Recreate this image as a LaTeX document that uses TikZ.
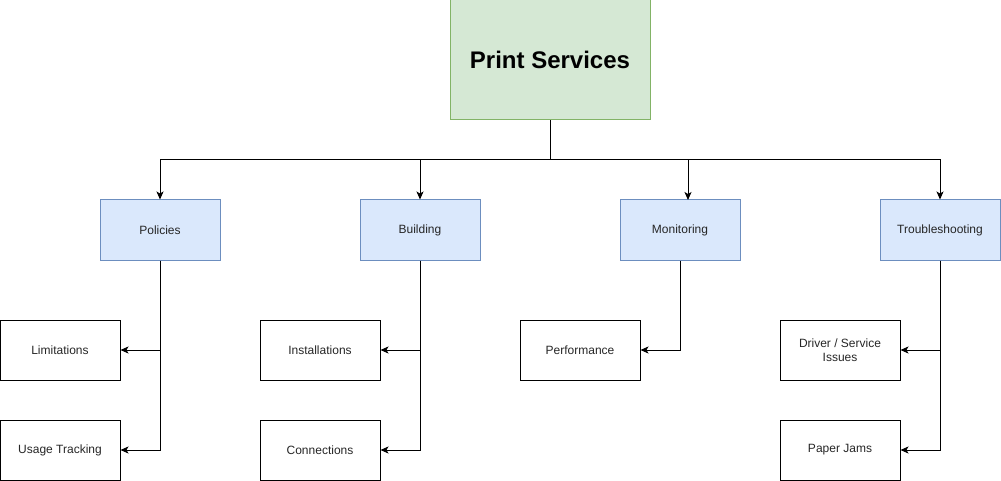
\documentclass[tikz,border=0pt]{standalone}
\usepackage{fontspec}
\setmainfont{Liberation Sans}
\usetikzlibrary{arrows.meta}
\definecolor{gfill}{HTML}{D5E8D4}
\definecolor{gdraw}{HTML}{82B366}
\definecolor{bfill}{HTML}{DAE8FC}
\definecolor{bdraw}{HTML}{6C8EBF}
\begin{document}
\begin{tikzpicture}[x=1pt,y=-1pt,
  box/.style={draw=black, line width=1pt, minimum width=120pt, minimum height=60pt, inner sep=0pt, align=center, font=\fontsize{12pt}{14pt}\selectfont, text=black!85},
  catbox/.style={box, fill=bfill, draw=bdraw},
  rootbox/.style={draw=gdraw, fill=gfill, line width=1pt, minimum width=200pt, minimum height=120pt, inner sep=0pt, font=\fontsize{24pt}{28pt}\selectfont\bfseries},
  arr/.style={line width=1pt, -{Stealth[length=8pt,width=7pt,inset=2pt]}}]
\useasboundingbox (0,0) rectangle (1001,481);
\node[rootbox] (root) at (550,60) {Print Services};
\node[catbox] (pol) at (160,230) {Policies};
\node[catbox] (bld) at (420,230) {Building};
\node[catbox] (mon) at (680,230) {Monitoring};
\node[catbox] (trb) at (940,230) {Troubleshooting};
\node[box] (lim) at (60,350) {Limitations};
\node[box] (use) at (60,450) {Usage Tracking};
\node[box] (ins) at (320,350) {Installations};
\node[box] (con) at (320,450) {Connections};
\node[box] (perf) at (580,350) {Performance};
\node[box] (drv) at (840,350) {Driver / Service\\Issues};
\node[box] (pap) at (840,450) {Paper Jams};
\coordinate (bus) at (550,160);
\coordinate (monin) at (688,200);
\draw[arr] (root.south) -- (bus) -| (pol.north);
\draw[arr] (root.south) -- (bus) -| (bld.north);
\draw[arr] (root.south) -- (bus) -| (monin);
\draw[arr] (root.south) -- (bus) -| (trb.north);
\draw[arr] (pol.south) |- (lim.east);
\draw[arr] (pol.south) |- (use.east);
\draw[arr] (bld.south) |- (ins.east);
\draw[arr] (bld.south) |- (con.east);
\draw[arr] (mon.south) |- (perf.east);
\draw[arr] (trb.south) |- (drv.east);
\draw[arr] (trb.south) |- (pap.east);
\end{tikzpicture}
\end{document}
